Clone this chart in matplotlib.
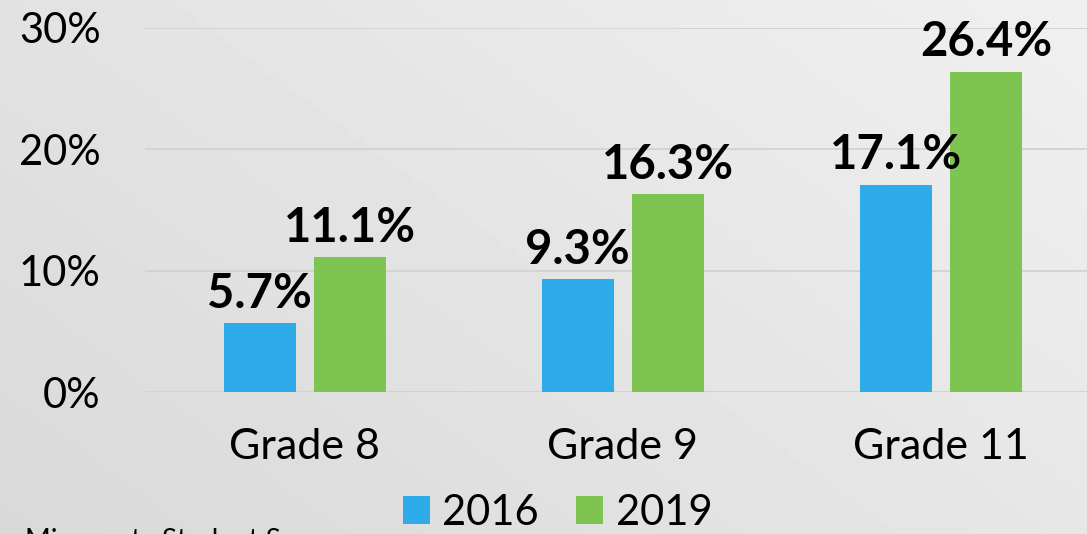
import numpy as np
import matplotlib.pyplot as plt

grades = ['Grade 8', 'Grade 9', 'Grade 11']
years = ['2016', '2019']
vals_2016 = [5.7, 9.3, 17.1]
vals_2019 = [11.1, 16.3, 26.4]
yticks = [0, 10, 20, 30]

blue = '#2EACEA'
green = '#7EC450'
plt.rcParams['font.family'] = ['Lato', 'DejaVu Sans']

fig = plt.figure(figsize=(10.87, 5.34), dpi=100)

# gradient background
bg = fig.add_axes([0, 0, 1, 1], zorder=-10)
xx, yy = np.meshgrid(np.linspace(0, 1, 200), np.linspace(0, 1, 100))
grad = 0.85 + 0.09 * (0.6 * xx + 0.4 * yy)
bg.imshow(grad, cmap='gray', vmin=0, vmax=1, extent=[0, 1, 0, 1],
          aspect='auto', origin='lower')
bg.axis('off')

ax = fig.add_axes([0.1334, 0.2659, 0.8666, 0.6817])
ax.patch.set_alpha(0)
x = np.arange(len(grades))
w = 0.226
off = 0.142
b1 = ax.bar(x - off, vals_2016, w, color=blue, label=years[0], zorder=3)
b2 = ax.bar(x + off, vals_2019, w, color=green, label=years[1], zorder=3)
for bars, vals in [(b1, vals_2016), (b2, vals_2019)]:
    for r, v in zip(bars, vals):
        ax.text(r.get_x() + r.get_width() / 2, v + 1.25, f'{v:.1f}%',
                ha='center', va='baseline', fontsize=34, fontweight='bold',
                clip_on=False)

ax.set_ylim(0, 30)
ax.set_xlim(-0.503, 2.46)
ax.set_yticks(yticks)
ax.set_yticklabels([f'{t}%' for t in yticks])
ax.set_xticks(x)
ax.set_xticklabels(grades)
ax.tick_params(axis='y', length=0, pad=32, labelsize=30)
ax.tick_params(axis='x', length=0, pad=26, labelsize=31)
ax.grid(axis='y', color='#d0d0d0', linewidth=1.2, zorder=0)
for s in ax.spines.values():
    s.set_visible(False)

fig.legend(loc='center', bbox_to_anchor=(0.513, 0.04), ncol=2, frameon=False,
           fontsize=30, handlelength=0.65, handleheight=0.65, handletextpad=0.3,
           columnspacing=0.9)
fig.text(0.023, 0.012, 'Minnesota Student Survey', fontsize=20, va='top')

fig.savefig('out.png', dpi=100)
